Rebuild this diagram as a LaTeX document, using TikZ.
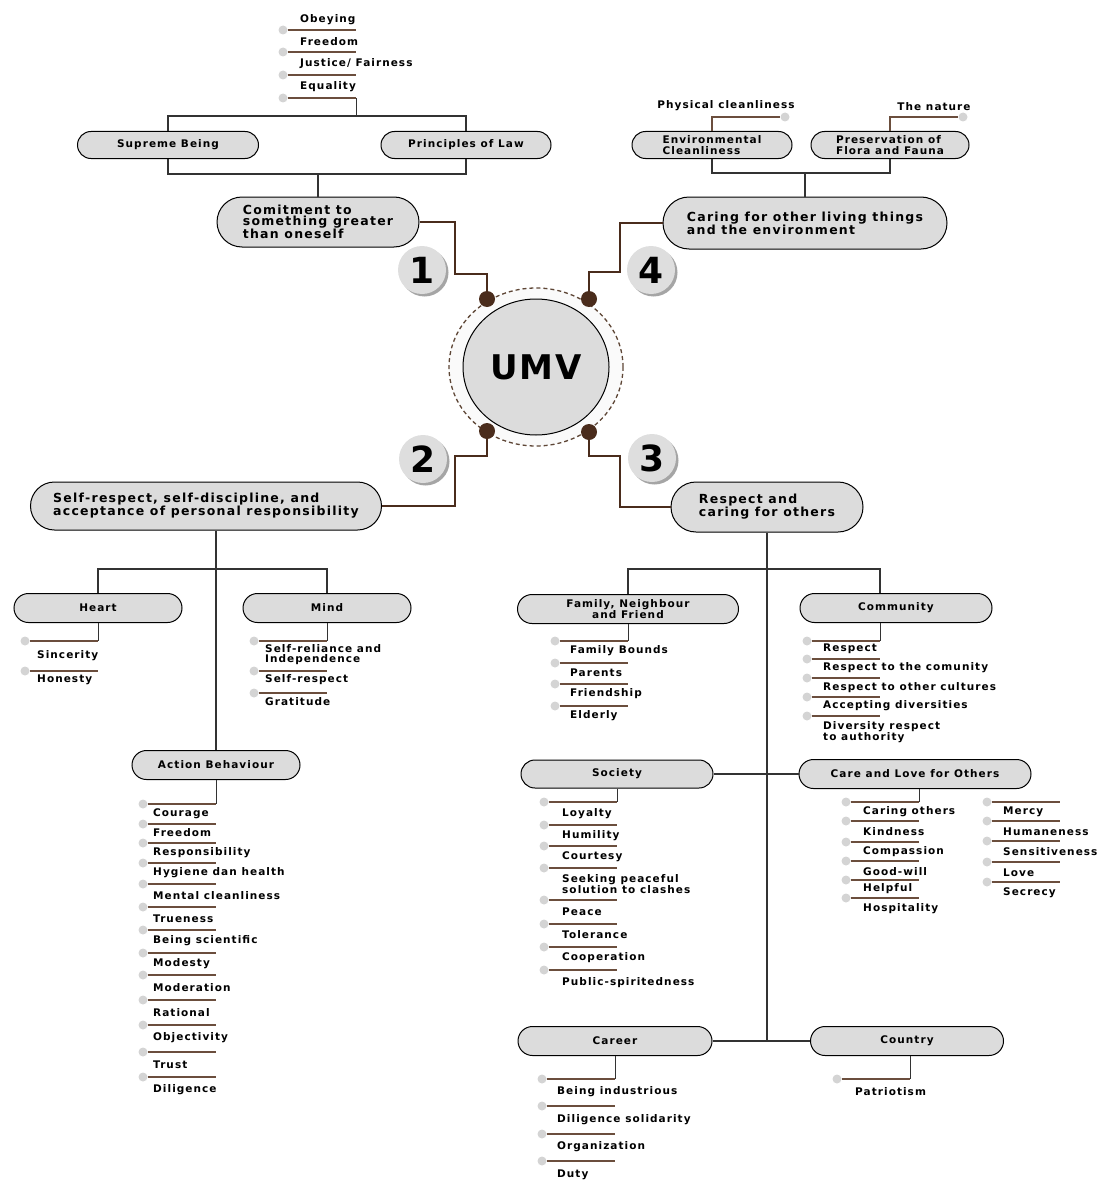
\documentclass[tikz,border=0pt]{standalone}
\usepackage{fontspec}
\setmainfont{DejaVu Sans}[LetterSpace=10]
\usetikzlibrary{shapes.misc,shapes.geometric,shadows}
\definecolor{pillgray}{HTML}{DCDCDC}
\definecolor{badgegray}{HTML}{DEDEDE}
\definecolor{dotgray}{HTML}{D4D4D4}
\definecolor{treegray}{HTML}{333333}
\definecolor{itembrown}{HTML}{6B4E3D}
\definecolor{linkbrown}{HTML}{4A2C1C}
\definecolor{ringbrown}{HTML}{5E4636}

\begin{document}
\begin{tikzpicture}[x=1pt, y=-1pt]
	\tikzset{pill/.style={rounded rectangle, draw=black, line width=1pt, fill=pillgray, inner sep=1pt, align=center, font=\fontsize{10.5}{10.5}\selectfont\bfseries}, bigpill/.style={pill, align=left, font=\fontsize{12.5}{11}\selectfont\bfseries}, tree/.style={draw=treegray, line width=1.1pt}, item/.style={draw=itembrown, line width=1.4pt}, link/.style={draw=linkbrown, line width=1.8pt}, dot/.style={circle, fill=dotgray, inner sep=0pt, minimum size=9pt}, knob/.style={circle, fill=linkbrown, inner sep=0pt, minimum size=16pt}, lbl/.style={anchor=west, inner sep=0pt, align=left, font=\fontsize{10.5}{10}\selectfont\bfseries}, badge/.style={circle, fill=badgegray, inner sep=0pt, minimum size=48pt, drop shadow={shadow xshift=2.5pt, shadow yshift=-2.5pt, fill=black!70}, font=\fontsize{36}{36}\selectfont\bfseries\addfontfeature{LetterSpace=0}}};

	\useasboundingbox (0,0) rectangle (1100,1180);

	% centre
	\node[ellipse, draw=ringbrown, dash pattern=on 4pt off 3pt, line width=1.3pt, fill=black!2, minimum width=174pt, minimum height=158pt] (ring) at ( 536,  367) {};
	\node[ellipse, draw=black, line width=1pt, fill=pillgray, minimum width=146pt, minimum height=136pt, font=\fontsize{34}{34}\selectfont\bfseries\addfontfeature{LetterSpace=5}] (umv) at ( 536,  367) {UMV};
	\node[knob] (k1) at ( 487,  299) {};
	\node[knob] (k4) at ( 589,  299) {};
	\node[knob] (k2) at ( 487,  431) {};
	\node[knob] (k3) at ( 589,  432) {};

	\node[badge] (b1) at ( 422,  270) {1};
	\node[badge] (b4) at ( 651,  270) {4};
	\node[badge] (b2) at ( 423,  459) {2};
	\node[badge] (b3) at ( 652,  458) {3};

	% main values
	\node[bigpill, minimum width=204pt, minimum height=50pt] (comit)  at ( 318,  222) {Comitment to\\something greater\\than oneself};
	\node[bigpill, minimum width=286pt, minimum height=52pt] (caring) at ( 805,  223) {Caring for other living things\\and the environment};
	\node[bigpill, minimum width=353pt, minimum height=48pt] (selfr)  at ( 206,  506) {Self-respect, self-discipline, and\\acceptance of personal responsibility};
	\node[bigpill, minimum width=194pt, minimum height=50pt] (resp)   at ( 767,  507) {Respect and\\caring for others};

	\draw[link] (comit.east) -| (455,274) -| (k1);
	\draw[link] (k4) |- (620,272) |- (caring.west);
	\draw[link] (k2) |- (455,456) |- (selfr.east);
	\draw[link] (k3) |- (620,456) |- (resp.west);

	% sub values
	\node[pill, minimum width=183pt, minimum height=27pt] (sup)     at ( 168,  145) {Supreme Being};
	\node[pill, minimum width=172pt, minimum height=27pt] (law)     at ( 466,  145) {Principles of Law};
	\node[pill, align=left, minimum width=162pt, minimum height=27pt] (env)   at ( 712,  145) {Environmental\\Cleanliness};
	\node[pill, align=left, minimum width=160pt, minimum height=27pt] (flora) at ( 890,  145) {Preservation of\\Flora and Fauna};
	\node[pill, minimum width=170pt, minimum height=29pt] (heart)   at (  98,  608) {Heart};
	\node[pill, minimum width=170pt, minimum height=29pt] (mind)    at ( 327,  608) {Mind};
	\node[pill, minimum width=170pt, minimum height=29pt] (action)  at ( 216,  765) {Action Behaviour};
	\node[pill, minimum width=223pt, minimum height=29pt] (family)  at ( 628,  609) {Family, Neighbour\\and Friend};
	\node[pill, minimum width=194pt, minimum height=29pt] (comm)    at ( 896,  608) {Community};
	\node[pill, minimum width=194pt, minimum height=28pt] (society) at ( 617,  774) {Society};
	\node[pill, minimum width=234pt, minimum height=29pt] (care)    at ( 915,  774) {Care and Love for Others};
	\node[pill, minimum width=196pt, minimum height=29pt] (career)  at ( 615, 1041) {Career};
	\node[pill, minimum width=195pt, minimum height=29pt] (country) at ( 907, 1041) {Country};

	\draw[tree] (sup.north) -- ++(0,-15) coordinate (bt) -| (law.north);
	\draw[tree] (sup.south) -- ++(0,15) coordinate (bb) -| (law.south);
	\draw[tree] (comit.north) -- (comit.north |- bb);
	\draw[tree] (env.south) -- ++(0,14) coordinate (eb) -| (flora.south);
	\draw[tree] (caring.north) -- (caring.north |- eb);
	\draw[tree] (action.north |- selfr.south) -- (action.north);
	\draw[tree] (heart.north) -- ++(0,-24) coordinate (hb) -| (mind.north);
	\draw[tree] (resp.south) -- (resp.south |- career.east);
	\draw[tree] (family.north) -- ++(0,-25) coordinate (fb) -| (comm.north -| 880,0);
	\draw[tree] (society.east) -- (care.west);
	\draw[tree] (career.east) -- (country.west);

	% top lists
	\foreach \ly/\ty/\t [count=\i] in {30/20/Obeying, 52/42/Freedom, 75/64/{Justice/ Fairness}, 98/87/Equality}{
		\node[dot] (od\i) at (283,\ly) {};
		\draw[item] (od\i.east) -- ++(68.5,0) coordinate (oe\i);
		\node[lbl] (ot\i) at (300,\ty) {\t};
	}
	\draw[tree] (oe4) -- (oe4 |- bt);

	\node[dot] (pcd) at ( 785,  117) {};
	\node[dot] (tnd) at ( 963,  117) {};
	\draw[item] (env.north) |- (pcd);
	\draw[item] (flora.north) |- (tnd);
	\node[lbl, anchor=center] (pct) at ( 726,  106) {Physical cleanliness};
	\node[lbl, anchor=center] (tnt) at ( 934,  107) {The nature};

	% left lists
	\foreach \ly/\ty/\t [count=\i] in {641/656/Sincerity, 671/680/Honesty}{
		\node[dot] (hd\i) at (25,\ly) {};
		\draw[item] (hd\i.east) -- ++(68.5,0) coordinate (he\i);
		\node[lbl] (ht\i) at (37,\ty) {\t};
	}
	\draw[tree] (he1 |- heart.south) -- (he1);

	\foreach \ly/\ty/\t [count=\i] in {641/655/{Self-reliance and\\Independence}, 671/680/Self-respect, 693/702/Gratitude}{
		\node[dot] (md\i) at (254,\ly) {};
		\draw[item] (md\i.east) -- ++(68.5,0) coordinate (me\i);
		\node[lbl] (mt\i) at (265,\ty) {\t};
	}
	\draw[tree] (me1 |- mind.south) -- (me1);

	\foreach \ly/\ty/\t [count=\i] in {804/814/Courage, 824/833/Freedom, 843/853/Responsibility, 863/873/Hygiene dan health, 884/896/Mental cleanliness, 907/919/Trueness, 930/941/Being scientific, 953/964/Modesty, 975/988/Moderation, 1000/1013/Rational, 1025/1038/Objectivity, 1052/1065/Trust, 1077/1090/Diligence}{
		\node[dot] (ad\i) at (143,\ly) {};
		\draw[item] (ad\i.east) -- ++(68.5,0) coordinate (ae\i);
		\node[lbl] (at\i) at (153,\ty) {\t};
	}
	\draw[tree] (ae1 |- action.south) -- (ae1);

	% right lists
	\foreach \ly/\ty/\t [count=\i] in {641/651/Family Bounds, 663/673/Parents, 684/694/Friendship, 706/716/Elderly}{
		\node[dot] (fd\i) at (555,\ly) {};
		\draw[item] (fd\i.east) -- ++(68.5,0) coordinate (fe\i);
		\node[lbl] (ft\i) at (570,\ty) {\t};
	}
	\draw[tree] (fe1 |- family.south) -- (fe1);

	\foreach \ly/\ty/\t [count=\i] in {641/649/Respect, 659/668/Respect to the comunity, 678/688/Respect to other cultures, 697/706/Accepting diversities, 716/732/{Diversity respect\\to authority}}{
		\node[dot] (cd\i) at (807,\ly) {};
		\draw[item] (cd\i.east) -- ++(68.5,0) coordinate (ce\i);
		\node[lbl] (ct\i) at (823,\ty) {\t};
	}
	\draw[tree] (ce1 |- comm.south) -- (ce1);

	\foreach \ly/\ty/\t [count=\i] in {802/814/Loyalty, 825/836/Humility, 846/857/Courtesy, 868/884/{Seeking peaceful\\solution to clashes}, 900/912/Peace, 924/935/Tolerance, 947/958/Cooperation, 970/983/Public-spiritedness}{
		\node[dot] (sd\i) at (544,\ly) {};
		\draw[item] (sd\i.east) -- ++(68.5,0) coordinate (se\i);
		\node[lbl] (st\i) at (562,\ty) {\t};
	}
	\draw[tree] (se1 |- society.south) -- (se1);

	\foreach \ly/\ty/\t [count=\i] in {802/812/Caring others, 821/832/Kindness, 842/852/Compassion, 861/872/Good-will, 880/889/Helpful, 898/909/Hospitality}{
		\node[dot] (ld\i) at (846,\ly) {};
		\draw[item] (ld\i.east) -- ++(68.5,0) coordinate (le\i);
		\node[lbl] (lt\i) at (863,\ty) {\t};
	}
	\draw[tree] (le1 |- care.south) -- (le1);

	\foreach \ly/\ty/\t [count=\i] in {802/812/Mercy, 821/832/Humaneness, 841/852/Sensitiveness, 862/873/Love, 882/893/Secrecy}{
		\node[dot] (vd\i) at (987,\ly) {};
		\draw[item] (vd\i.east) -- ++(68.5,0) coordinate (ve\i);
		\node[lbl] (vt\i) at (1003,\ty) {\t};
	}

	\foreach \ly/\ty/\t [count=\i] in {1079/1092/Being industrious, 1106/1120/Diligence solidarity, 1134/1147/Organization, 1161/1175/Duty}{
		\node[dot] (rd\i) at (542,\ly) {};
		\draw[item] (rd\i.east) -- ++(68.5,0) coordinate (re\i);
		\node[lbl] (rt\i) at (557,\ty) {\t};
	}
	\draw[tree] (re1 |- career.south) -- (re1);

	\node[dot] (pd1) at ( 837, 1079) {};
	\draw[item] (pd1.east) -- ++(68.5,0) coordinate (pe1);
	\node[lbl] (pt1) at ( 855, 1092) {Patriotism};
	\draw[tree] (pe1 |- country.south) -- (pe1);

\end{tikzpicture}
\end{document}
